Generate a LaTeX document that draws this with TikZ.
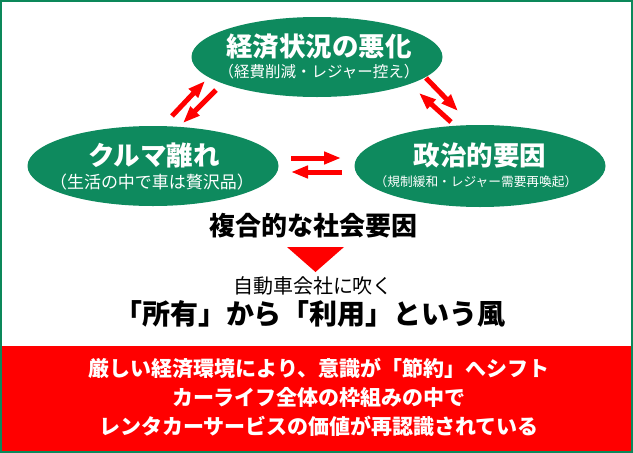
\documentclass[tikz,border=0pt]{standalone}
\usepackage{fontspec}
\newfontfamily\jp{Noto Sans CJK JP}
\usetikzlibrary{shapes.geometric,arrows.meta,positioning}
\definecolor{bubblegreen}{RGB}{14,138,94}
\definecolor{framegreen}{RGB}{12,136,90}
\definecolor{bandred}{RGB}{255,0,0}
\tikzset{x=1pt,y=-1pt,
  bubble/.style={ellipse,fill=bubblegreen,minimum width=251pt,minimum height=80pt,inner sep=0pt},
  head/.style={text=white,inner sep=0pt,font=\jp\bfseries\fontsize{26.5}{30}\selectfont},
  sub/.style={text=white,inner sep=0pt},
  caption/.style={inner sep=0pt,text=black},
  flow/.style={draw=bandred,line width=5pt,-{Triangle[width=12pt,length=17pt]}},
}

\begin{document}
\begin{tikzpicture}
    \useasboundingbox (0,0) rectangle (633,453);
    \fill[white] (0,0) rectangle (633,453);
    \fill[bandred] (2,346) rectangle (631,451);
    \draw[framegreen,line width=2pt] (1,1) rectangle (632,452);

    % three causes
    \node[bubble] (econ) at (317,57) {};
    \node[bubble] (car) at (153,166) {};
    \node[bubble,minimum height=82pt] (pol) at (480,166) {};
    \node[head] (econ-h) at (319,47) {経済状況の悪化};
    \node[sub,font=\jp\fontsize{15.5}{18}\selectfont] (econ-s) at (319,72) {（経費削減・レジャー控え）};
    \node[head] (car-h) at (154,155) {クルマ離れ};
    \node[sub,font=\jp\fontsize{17}{20}\selectfont] (car-s) at (152,182) {（生活の中で車は贅沢品）};
    \node[head] (pol-h) at (480,155) {政治的要因};
    \node[sub,font=\jp\fontsize{12.7}{16}\selectfont] (pol-s) at (476,182) {（規制緩和・レジャー需要再喚起）};

    \coordinate (a1) at (172,116); \coordinate (a2) at (205,81);
    \coordinate (b1) at (216,90);  \coordinate (b2) at (183,123);
    \coordinate (c1) at (426,78);  \coordinate (c2) at (458,111);
    \coordinate (d1) at (451,122); \coordinate (d2) at (419,93);
    \coordinate (e1) at (291,158); \coordinate (e2) at (341,158);
    \coordinate (f1) at (342,172); \coordinate (f2) at (291,172);
    \draw[flow] (a1) -- (a2);
    \draw[flow] (b1) -- (b2);
    \draw[flow] (c1) -- (c2);
    \draw[flow] (d1) -- (d2);
    \draw[flow] (e1) -- (e2);
    \draw[flow] (f1) -- (f2);

    \node[caption,font=\jp\bfseries\fontsize{26}{30}\selectfont] (mix) at (313,226) {複合的な社会要因};
    \fill[bandred] (287,247) -- (344,247) -- (315.5,272) -- cycle;
    \node[caption,font=\jp\fontsize{20}{24}\selectfont] (wind-s) at (313,286) {自動車会社に吹く};
    \node[caption,font=\jp\bfseries\fontsize{28}{32}\selectfont] (wind) at (310,314) {「所有」から「利用」という風};

    \node[sub,align=center,font=\jp\bfseries\fontsize{21}{29}\selectfont] (band) at (319,397)
      {厳しい経済環境により、意識が「節約」へシフト\\カーライフ全体の枠組みの中で\\レンタカーサービスの価値が再認識されている};
\end{tikzpicture}
\end{document}
